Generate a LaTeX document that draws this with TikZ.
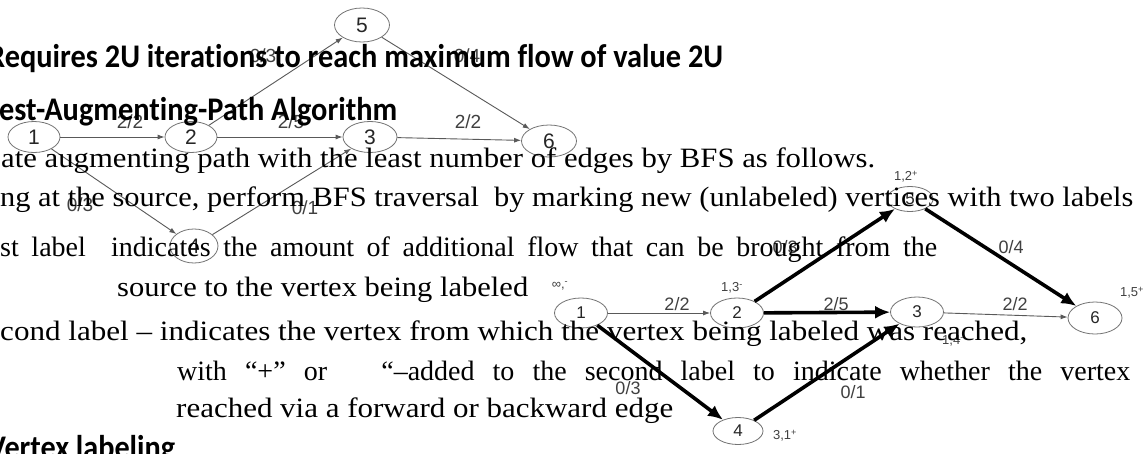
\documentclass[tikz,border=0pt]{standalone}
\usepackage{fontspec}
\usepackage{graphicx}
\setmainfont{Liberation Serif}
\newfontfamily\hdfont{Carlito}[Ligatures=CommonOff]
\newfontfamily\grfont{Liberation Sans}
\usetikzlibrary{shapes.geometric,arrows.meta}
\newcommand\fitx[2]{\resizebox{#1}{\height}{#2}}
\tikzset{
  tn/.style={ellipse, draw=black!55, line width=0.8pt, inner sep=0pt,
    minimum width=53pt, minimum height=31pt, text=black!85,
    font=\grfont\fontsize{21}{21}\selectfont},
  ln/.style={ellipse, draw=black!55, line width=0.8pt, inner sep=0pt,
    minimum width=53pt, minimum height=30pt, text=black!85,
    font=\grfont\fontsize{17}{17}\selectfont},
  thinedge/.style={draw=black!65, line width=0.9pt, -{Latex[length=7pt,width=5pt]}},
  thickedge/.style={draw=black, line width=3.6pt, -{Latex[length=15pt,width=13pt]}},
  tlab/.style={inner sep=0pt, text=black!75, font=\grfont\fontsize{19}{19}\selectfont},
  llab/.style={inner sep=0pt, text=black!75, font=\grfont\fontsize{18}{18}\selectfont},
  blab/.style={inner sep=0pt, text=black!75, font=\grfont\fontsize{13}{13}\selectfont},
  hd/.style={anchor=base west, inner sep=0pt, text=black, font=\hdfont\bfseries\fontsize{33}{33}\selectfont},
  sr/.style={anchor=base west, inner sep=0pt, text=black, font=\fontsize{28}{28}\selectfont}
}
\begin{document}
\begin{tikzpicture}[x=1pt,y=-1pt]
\useasboundingbox (0,0) rectangle (1145,453);
\clip (0,0) rectangle (1145,453);
\fill[white] (0,0) rectangle (1145,453);

% ---------- upper graph (thin) ----------
\node[tn, minimum width=52pt] (a1) at (34,137) {1};
\node[tn, minimum width=52pt] (a2) at (191,137) {2};
\node[tn, minimum width=54pt] (a3) at (370,137) {3};
\node[tn, minimum width=55pt, minimum height=32pt] (a6) at (549,141) {6};
\node[tn, minimum width=55pt, minimum height=34pt] (a5) at (362,25) {5};
\node[tn, minimum width=48pt, minimum height=34pt] (a4) at (194,246) {4};

\draw[thinedge] (a1) -- (a2);
\draw[thinedge] (a2) -- (a3);
\draw[thinedge] (a3) -- (a6);
\draw[thinedge] (a2) -- (a5);
\draw[thinedge] (a5) -- (a6);
\draw[thinedge] (a1) -- (a4);
\draw[thinedge] (a4) -- (a3);

\node[tlab] (ta) at (130,122) {2/2};
\node[tlab] (tb) at (291,122) {2/5};
\node[tlab] (tc) at (468,122) {2/2};
\node[tlab] (td) at (263,56) {0/3};
\node[tlab] (te) at (467,56) {0/4};
\node[tlab] (tf) at (80,205) {0/3};
\node[tlab] (tg) at (305,208) {0/1};

% ---------- lower graph (BFS labelled) ----------
\node[ln] (b1) at (581,313) {1};
\node[ln] (b2) at (737,313) {2};
\node[ln] (b3) at (917,312) {3};
\node[ln, minimum width=54pt, minimum height=32pt] (b6) at (1095,318) {6};
\node[ln, minimum width=46pt, minimum height=25pt] (b5) at (910,199) {5};
\node[ln, minimum width=50pt, minimum height=27pt] (b4) at (738,431) {4};

\draw[thinedge] (b1) -- (b2);
\draw[thickedge] (b2) -- (b3);
\draw[thinedge] (b3) -- (b6);
\draw[thickedge] (b2) -- (b5);
\draw[thickedge] (b5) -- (b6);
\draw[thickedge] (b1) -- (b4);
\draw[thickedge] (b4) -- (b3);

\node[llab] (la) at (677,304) {2/2};
\node[llab] (lb) at (836,304) {2/5};
\node[llab] (lc) at (1015,304) {2/2};
\node[llab] (ld) at (785,247) {0/3};
\node[llab] (le) at (1011,247) {0/4};
\node[llab] (lf) at (628,388) {0/3};
\node[llab] (lg) at (853,392) {0/1};

\node[blab] (m1) at (560,286) {∞,\textsuperscript{-}};
\node[blab] (m2) at (732,288) {1,3\textsuperscript{-}};
\node[blab] (m5) at (906,177) {1,2\textsuperscript{+}};
\node[blab] (m6) at (1132,293) {1,5\textsuperscript{+}};
\node[blab] (m3) at (953,341) {1,4\textsuperscript{-}};
\node[blab] (m4) at (785,436) {3,1\textsuperscript{+}};

% ---------- slide text ----------
\node[hd] (h1) at (-12,67) {\fitx{735pt}{Requires 2U iterations to reach maximum flow of value 2U}};
\node[hd] (h2) at (-1,120) {\fitx{398pt}{est-Augmenting-Path Algorithm}};
\node[hd] (h3) at (-12,458) {\fitx{187pt}{Vertex labeling}};

\node[sr] (s1) at (1,167) {\fitx{874pt}{ate augmenting path with the least number of edges by BFS as follows.}};
\node[sr] (s2) at (0,206) {\fitx{1133pt}{ng at the source, perform BFS traversal\ \ by marking new (unlabeled) vertices with two labels}};
\node[sr] (s3) at (0,256) {\makebox[937pt][s]{st label\ \ indicates the amount of additional flow that can be brought from the}};
\node[sr] (s4) at (117,296) {\fitx{411pt}{source to the vertex being labeled}};
\node[sr] (s5) at (0,340) {\fitx{1027pt}{cond label – indicates the vertex from which the vertex being labeled was reached,}};
\node[sr] (s6) at (177,380) {\makebox[953pt][s]{with “+” or \ \ “–added to the second label to indicate whether the vertex}};
\node[sr] (s7) at (176,417) {\fitx{497pt}{reached via a forward or backward edge}};
\end{tikzpicture}
\end{document}
